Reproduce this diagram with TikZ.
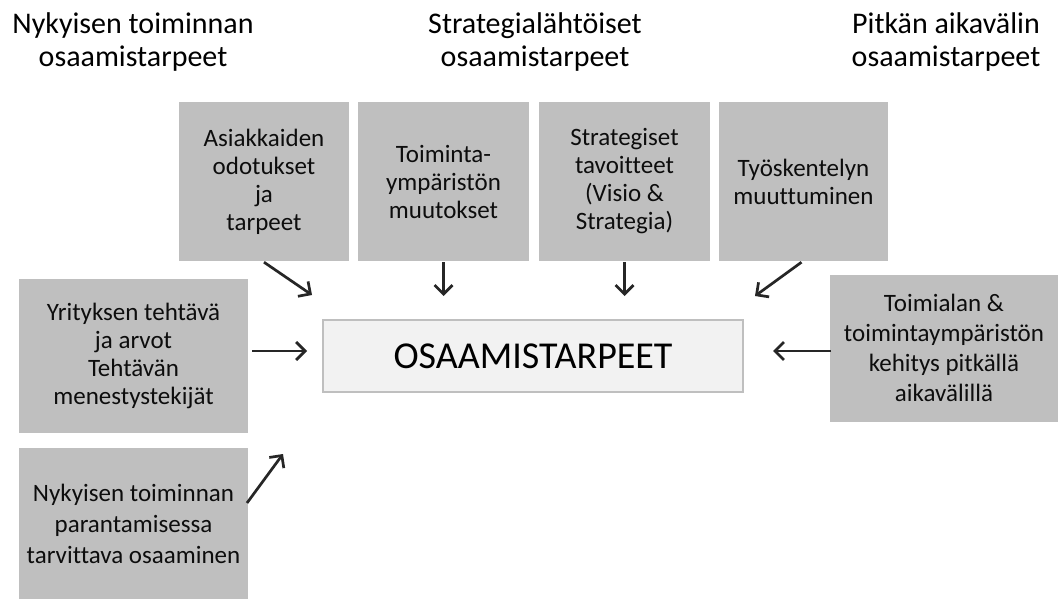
\documentclass[tikz,border=0pt]{standalone}
\usepackage{fontspec}
\setmainfont{Carlito}[Ligatures=NoCommon]
\usetikzlibrary{arrows.meta}
\definecolor{boxgray}{HTML}{BFBFBF}
\definecolor{lightfill}{HTML}{F2F2F2}
\definecolor{arrowcol}{HTML}{262626}
\definecolor{txt}{HTML}{0D0D0D}
\begin{document}
\begin{tikzpicture}[x=1pt,y=-1pt,
  gbox/.style={fill=boxgray, draw=none, inner sep=0pt, align=center, text=txt,
    font=\fontsize{25}{28}\selectfont},
  title/.style={align=center, text=black, font=\fontsize{30}{33}\selectfont, inner sep=0pt},
  mainbox/.style={fill=lightfill, draw=boxgray, line width=2pt, inner sep=0pt,
    font=\fontsize{38}{44}\selectfont, text=black},
  arr/.style={draw=arrowcol, line width=2.7pt, -{Straight Barb[length=9pt,width=18pt]}}
]
\useasboundingbox (0,0) rectangle (1058,599);
\fill[white] (0,0) rectangle (1058,599);

% titles
\node[title] (t1) at (133,42) {Nykyisen toiminnan\\osaamistarpeet};
\node[title] (t2) at (535,42) {Strategialähtöiset\\osaamistarpeet};
\node[title] (t3) at (946,42) {Pitkän aikavälin\\osaamistarpeet};

% top boxes
\node[gbox, minimum width=170pt, minimum height=159pt] (b1) at (264,181.5)
  {Asiakkaiden\\odotukset\\ja\\tarpeet};
\node[gbox, minimum width=171pt, minimum height=159pt] (b2) at (443.5,181.5)
  {Toiminta-\\ympäristön\\muutokset};
\node[gbox, minimum width=171pt, minimum height=159pt] (b3) at (624.5,181.5)
  {Strategiset\\tavoitteet\\(Visio \&\\Strategia)};
\node[gbox, minimum width=169pt, minimum height=159pt] (b4) at (803.5,181.5)
  {Työskentelyn\\muuttuminen};

% side boxes
\node[gbox, minimum width=229pt, minimum height=154pt] (l1) at (133.5,356)
  {Yrityksen tehtävä\\ja arvot\\Tehtävän\\menestystekijät};
\node[gbox, minimum width=229pt, minimum height=151pt, font=\fontsize{25}{31}\selectfont] (l2) at (133.5,523.5)
  {Nykyisen toiminnan\\parantamisessa\\tarvittava osaaminen};
\node[gbox, minimum width=228pt, minimum height=147pt, font=\fontsize{25}{30}\selectfont] (r1) at (944,348)
  {Toimialan \&\\toimintaympäristön\\kehitys pitkällä\\aikavälillä};

% centre box
\node[mainbox, minimum width=420pt, minimum height=72pt] (c) at (533,356) {OSAAMISTARPEET};

% arrow end points
\coordinate (e1) at (312,295);
\coordinate (e2) at (443.5,296);
\coordinate (e3) at (624.5,296);
\coordinate (e4) at (755,296);
\coordinate (e5) at (307,351);
\coordinate (s5) at (252,351);
\coordinate (e6) at (773,351);
\coordinate (s6) at (831,351);
\coordinate (e7) at (283,454);
\coordinate (s7) at (247,503);

\draw[arr] ([yshift=-1pt]b1.south) -- (e1);
\draw[arr] ([yshift=-1pt]b2.south) -- (e2);
\draw[arr] ([yshift=-1pt]b3.south) -- (e3);
\draw[arr] ([xshift=-2pt,yshift=-1pt]b4.south) -- (e4);
\draw[arr] (s5) -- (e5);
\draw[arr] (s6) -- (e6);
\draw[arr] (s7) -- (e7);
\end{tikzpicture}
\end{document}
